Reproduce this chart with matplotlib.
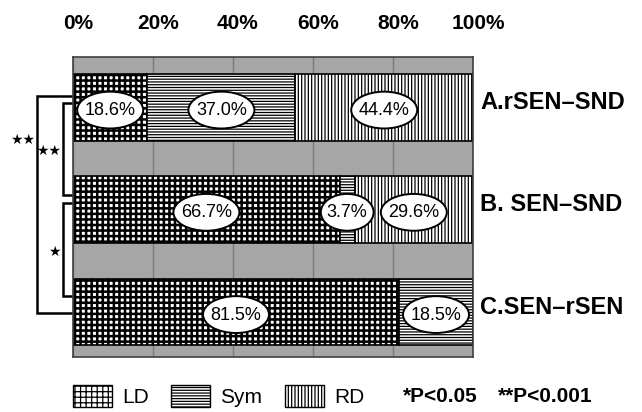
import matplotlib
matplotlib.use("Agg")
import matplotlib.pyplot as plt
import matplotlib.transforms as mtransforms
from matplotlib.patches import Patch, Ellipse
import numpy as np

groups = ["A.rSEN\u2013SND", "B. SEN\u2013SND", "C.SEN\u2013rSEN"]
series = ["LD", "Sym", "RD"]
ld = [18.6, 66.7, 81.5]
sym = [37.0, 3.7, 18.5]
rd = [44.4, 29.6, 0.0]
ticks = [0, 20, 40, 60, 80, 100]
tick_labels = ["0%", "20%", "40%", "60%", "80%", "100%"]
# significance brackets: (first group, second group, stars)
pairs = [(0, 2, "**"), (0, 1, "**"), (1, 2, "*")]
notes = ["*P<0.05", "**P<0.001"]

hatches = ["+++", "------", "|||||"]
hatch_lw = [1.8, 0.9, 0.9]

plt.rcParams["font.family"] = ["Liberation Sans", "DejaVu Sans"]
plt.rcParams["hatch.linewidth"] = 0.9

fig = plt.figure(figsize=(6.42, 4.12), dpi=100)
ax = fig.add_axes([73 / 642, 55 / 412, 400 / 642, 300 / 412])
ax.set_facecolor("#a6a6a6")

y = np.arange(len(groups))
h = 0.655
left = np.zeros(len(groups))
for vals, hatch, hlw in zip([ld, sym, rd], hatches, hatch_lw):
    vals = np.array(vals)
    bars = ax.barh(y, vals, left=left, height=h, color="white", edgecolor="black",
                   hatch=hatch, linewidth=1.2, zorder=2)
    for b in bars:
        b.set_hatch_linewidth(hlw)
    for yi, l, v in zip(y, left, vals):
        if v > 0:
            lab = f"{v:.1f}%"
            # white oval behind each value, sized to the label
            ax.add_patch(Ellipse((l + v / 2, yi + 0.025), 3.3 * len(lab), 0.36,
                                 fc="white", ec="black", lw=1.4, zorder=3))
            ax.text(l + v / 2, yi + 0.03, lab, ha="center", va="center",
                    fontsize=13, zorder=4)
    left = left + vals

ax.set_xlim(0, 100)
ax.set_ylim(2.44, -0.494)
ax.set_xticks(ticks)
ax.set_xticklabels(tick_labels, fontsize=15, fontweight="bold")
ax.xaxis.tick_top()
ax.tick_params(axis="x", length=0, pad=17)
shift = mtransforms.ScaledTranslation(5 / 100, 0, fig.dpi_scale_trans)
for t in ax.get_xticklabels():
    t.set_transform(t.get_transform() + shift)
ax.set_yticks([])
ax.grid(axis="x", color="#7a7a7a", lw=1)
ax.set_axisbelow(True)
for s in ax.spines.values():
    s.set_color("#404040")
    s.set_linewidth(1.2)

# group names on the right
for yi, name in zip(y, groups):
    ax.text(1.0175, yi + 0.015, name, transform=ax.get_yaxis_transform(),
            ha="left", va="baseline", fontsize=17, fontweight="bold")

# brackets on the left
tr = ax.get_yaxis_transform()
bx = {(0, 2): -0.09, (0, 1): -0.025, (1, 2): -0.025}
yend = {(0, 2): (-0.112, 2.01), (0, 1): (-0.044, 0.856), (1, 2): (0.934, 1.843)}
star_pos = {(0, 2): (-0.125, 0.32), (0, 1): (-0.06, 0.42), (1, 2): (-0.0475, 1.41)}
for a, b, stars in pairs:
    x0 = bx[(a, b)]
    y0, y1 = yend[(a, b)]
    ax.plot([0, x0, x0, 0], [y0, y0, y1, y1], transform=tr, color="black",
            lw=1.8, clip_on=False, solid_joinstyle="miter")
    sx, sy = star_pos[(a, b)]
    ax.text(sx, sy, "\u2605" * len(stars), transform=tr, ha="center", va="center",
            fontsize=10, family="DejaVu Sans")

handles = [Patch(facecolor="white", edgecolor="black", hatch=hh, lw=1.0,
                 hatch_linewidth=hlw) for hh, hlw in zip(hatches, hatch_lw)]
fig.legend(handles, series, loc="center left", bbox_to_anchor=(73 / 642, 16 / 412),
           ncol=3, frameon=False, fontsize=15, handlelength=1.86, handleheight=1.29,
           handletextpad=0.48, columnspacing=1.1, borderpad=0, borderaxespad=0)
fig.text(403 / 642, 16 / 412, notes[0], ha="left", va="center", fontsize=15,
         fontweight="bold")
fig.text(498 / 642, 16 / 412, notes[1], ha="left", va="center", fontsize=15,
         fontweight="bold")

fig.savefig("out.png", dpi=100)
